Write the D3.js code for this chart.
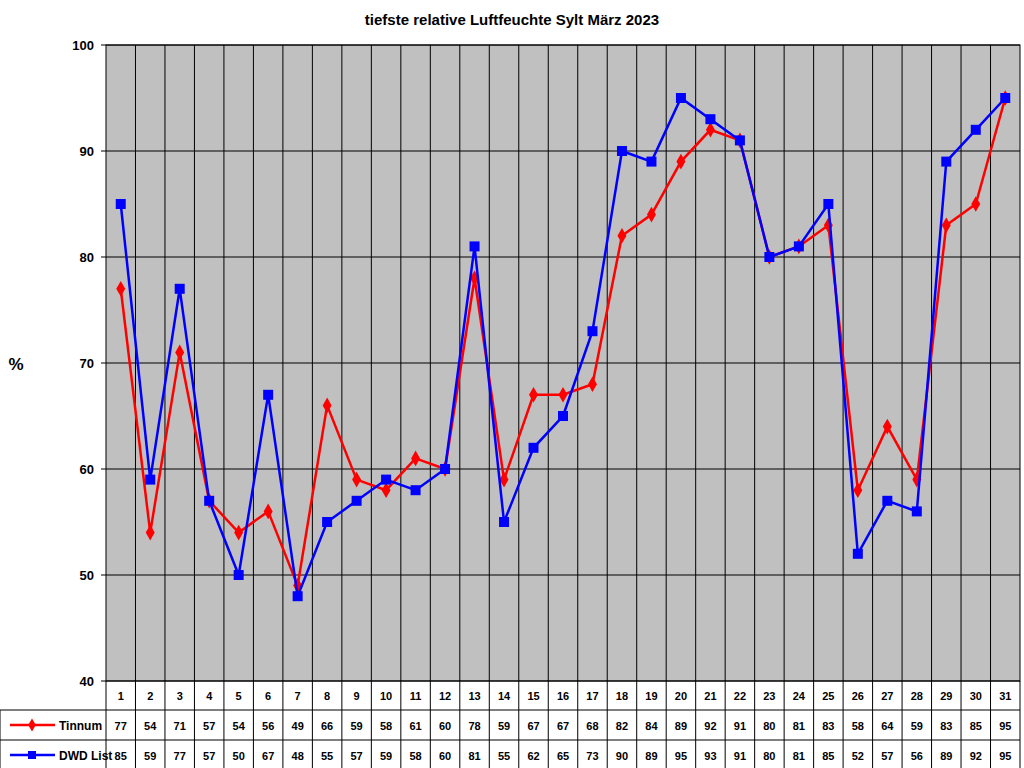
<!DOCTYPE html>
<html><head><meta charset="utf-8">
<script src="https://cdn.jsdelivr.net/npm/d3@7"></script>
<style>body{margin:0;background:#fff}svg{display:block}</style></head>
<body><svg id="c" width="1024" height="768"></svg>
<script>
const days = d3.range(1,32);
const tinnum = [77,54,71,57,54,56,49,66,59,58,61,60,78,59,67,67,68,82,84,89,92,91,80,81,83,58,64,59,83,85,95];
const dwd = [85,59,77,57,50,67,48,55,57,59,58,60,81,55,62,65,73,90,89,95,93,91,80,81,85,52,57,56,89,92,95];
const yTicks = [40,50,60,70,80,90,100];
const seriesNames = ["Tinnum","DWD List"];
const colors = ["#ff0000","#0000ff"];

const svg = d3.select("#c");
const L=106,R=1020,T=45,B=681;
const x = d3.scaleBand().domain(days).range([L,R]);
const y = d3.scaleLinear().domain([40,100]).range([B,T]);
const f = "Arial, 'Liberation Sans', sans-serif";

svg.append("rect").attr("x",L).attr("y",T).attr("width",R-L).attr("height",B-T).attr("fill","#c0c0c0");
svg.selectAll(".hg").data(yTicks).join("line").attr("x1",L).attr("x2",R)
  .attr("y1",d=>y(d)).attr("y2",d=>y(d)).attr("stroke","#000").attr("stroke-width",1);
svg.selectAll(".vg").data(days.slice(1)).join("line").attr("x1",d=>x(d)).attr("x2",d=>x(d))
  .attr("y1",T).attr("y2",768).attr("stroke","#000").attr("stroke-width",1);
svg.append("rect").attr("x",L).attr("y",T).attr("width",R-L).attr("height",B-T).attr("fill","none").attr("stroke","#000");
svg.selectAll(".yl").data(yTicks).join("text").attr("x",L-12).attr("y",d=>y(d)+5)
  .attr("text-anchor","end").attr("font-family",f).attr("font-weight","bold").attr("font-size",13).text(d=>d);
svg.selectAll(".yt").data(yTicks).join("line").attr("x1",L-5).attr("x2",L).attr("y1",d=>y(d)).attr("y2",d=>y(d)).attr("stroke","#000");
svg.append("text").attr("x",16).attr("y",370).attr("text-anchor","middle").attr("font-family",f).attr("font-weight","bold").attr("font-size",17).text("%");
svg.append("text").attr("x",512).attr("y",25).attr("text-anchor","middle").attr("font-family",f).attr("font-weight","bold").attr("font-size",15).text("tiefste relative Luftfeuchte Sylt März 2023");

// table
const rows=[710,740];
svg.append("line").attr("x1",0).attr("x2",R).attr("y1",710).attr("y2",710).attr("stroke","#000");
svg.append("line").attr("x1",0).attr("x2",R).attr("y1",740).attr("y2",740).attr("stroke","#000");
svg.append("line").attr("x1",0).attr("x2",0).attr("y1",710).attr("y2",768).attr("stroke","#000");
svg.append("line").attr("x1",L).attr("x2",L).attr("y1",681).attr("y2",768).attr("stroke","#000");
svg.append("line").attr("x1",R).attr("x2",R).attr("y1",681).attr("y2",768).attr("stroke","#000");
svg.selectAll(".dn").data(days).join("text").attr("x",d=>x(d)+x.bandwidth()/2).attr("y",700)
  .attr("text-anchor","middle").attr("font-family",f).attr("font-weight","bold").attr("font-size",11).text(d=>d);
[tinnum,dwd].forEach((arr,i)=>{
  svg.selectAll(".tv"+i).data(arr).join("text").attr("x",(d,j)=>x(days[j])+x.bandwidth()/2).attr("y",rows[i]+20)
    .attr("text-anchor","middle").attr("font-family",f).attr("font-weight","bold").attr("font-size",11).text(d=>d);
  svg.append("line").attr("x1",10).attr("x2",55).attr("y1",rows[i]+15).attr("y2",rows[i]+15).attr("stroke",colors[i]).attr("stroke-width",2.5);
  if(i==0) svg.append("path").attr("d",d3.symbol(d3.symbolDiamond,50)()).attr("transform",`translate(32,${rows[i]+15})`).attr("fill",colors[i]);
  else svg.append("rect").attr("x",28).attr("y",rows[i]+11).attr("width",8).attr("height",8).attr("fill",colors[i]);
  svg.append("text").attr("x",59).attr("y",rows[i]+20).attr("font-family",f).attr("font-weight","bold").attr("font-size",12).text(seriesNames[i]);
});

const cx = d=>x(d)+x.bandwidth()/2;
const line = d3.line().x((d,j)=>cx(days[j])).y(d=>y(d));
// DWD first then Tinnum? Reference: blue on top mostly
svg.append("path").attr("d",line(tinnum)).attr("fill","none").attr("stroke",colors[0]).attr("stroke-width",2.5);
svg.selectAll(".tm").data(tinnum).join("path").attr("d",d3.symbol(d3.symbolDiamond,70)())
  .attr("transform",(d,j)=>`translate(${cx(days[j])},${y(d)})`).attr("fill",colors[0]);
svg.append("path").attr("d",line(dwd)).attr("fill","none").attr("stroke",colors[1]).attr("stroke-width",2.5);
svg.selectAll(".dm").data(dwd).join("rect").attr("x",(d,j)=>cx(days[j])-5).attr("y",d=>y(d)-5)
  .attr("width",10).attr("height",10).attr("fill",colors[1]);
</script></body></html>
